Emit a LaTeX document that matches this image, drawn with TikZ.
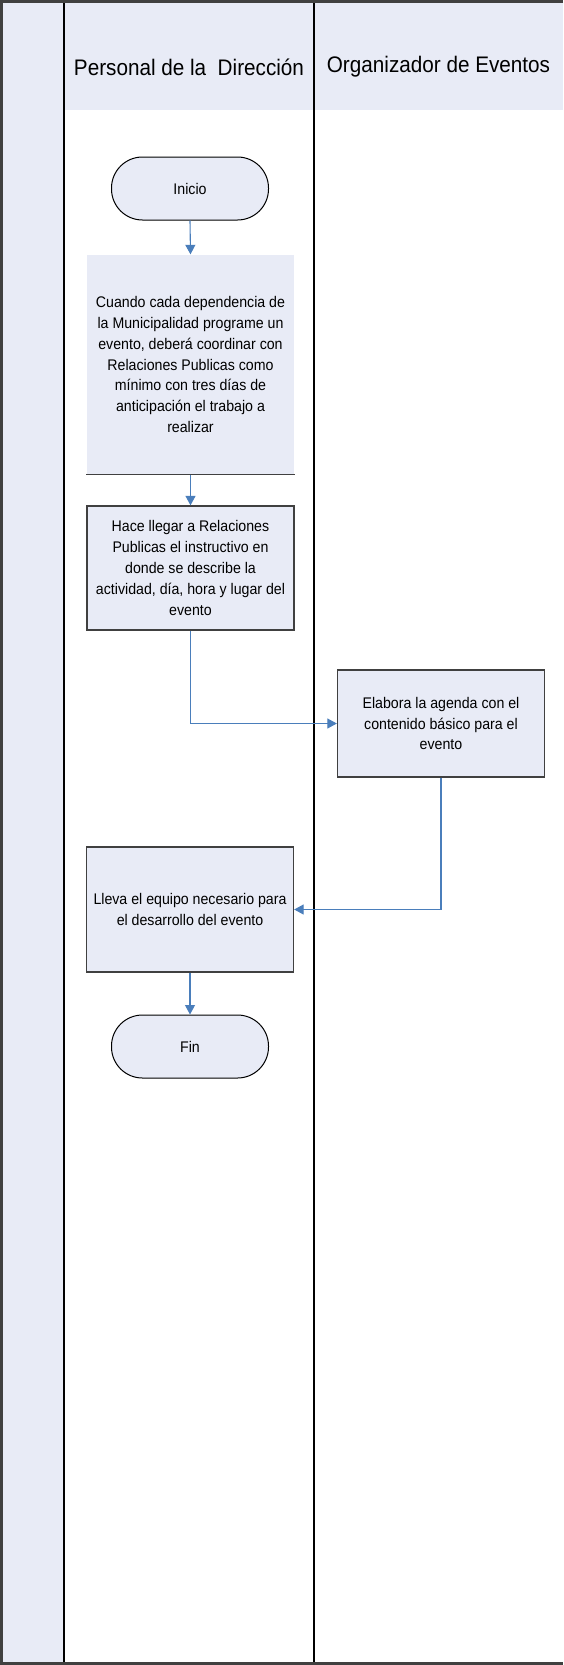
\documentclass[tikz,border=0pt]{standalone}
\usepackage{fontspec}
\setmainfont[FakeStretch=0.92]{Liberation Sans}
\usetikzlibrary{arrows.meta, positioning}
\definecolor{cLane}{RGB}{232,235,246}
\definecolor{cFlow}{RGB}{74,126,187}
\definecolor{cEdge}{RGB}{64,64,64}
\tikzset{
	startstop/.style={rectangle, rounded corners=31pt, minimum width=157pt, minimum height=63pt, text centered, align=center, draw=black, line width=1pt, fill=cLane, font=\fontsize{15.4}{20.8}\selectfont},
	process/.style  ={rectangle, minimum width=207pt, text centered, align=center, draw=cEdge, line width=1.3pt, fill=cLane, font=\fontsize{15.4}{20.8}\selectfont},
	lanehead/.style ={font=\fontsize{22.5}{26}\selectfont},
	lanerule/.style ={black, line width=1.4pt},
	flowarrow/.style={-{Triangle[length=9.5pt, width=10pt]}, draw=cFlow, line width=1.1pt},
}

\begin{document}
\begin{tikzpicture}[x=1pt, y=-1pt]
	\useasboundingbox (0,0) rectangle (563,1665);
	% pool and lanes
	\fill[cLane] (0,0) rectangle (64,1665);
	\fill[cLane] (64,0) rectangle (563,110);
	\draw[lanerule] (64,0) -- (64,1665);
	\draw[lanerule] (314,0) -- (314,1665);
	\draw[cEdge, line width=3pt] (563,1.5) -- (1.5,1.5) -- (1.5,1663.5) -- (563,1663.5);
	\node[lanehead] (lane1) at (189,67) {Personal de la\ \ Dirección};
	\node[lanehead] (lane2) at (438.5,67) {Organizador de Eventos};
	% steps
	\node[startstop] (inicio) at (190,188.5) {Inicio};
	\node[process, draw=none, minimum height=219pt] (act1) at (190.5,364.5) {Cuando cada dependencia de\\ la Municipalidad programe un\\ evento, deberá coordinar con\\ Relaciones Publicas como\\ mínimo con tres días de\\ anticipación el trabajo a\\ realizar};
	\draw[cEdge, line width=1.5pt] (act1.south west) -- (act1.south east);
	\node[process, minimum height=124pt] (act2) at (190.5,568) {Hace llegar a Relaciones\\ Publicas el instructivo en\\ donde se describe la\\ actividad, día, hora y lugar del\\ evento};
	\node[process, minimum height=107pt] (act3) at (441,723.5) {Elabora la agenda con el\\ contenido básico para el\\ evento};
	\node[process, minimum height=125pt] (act4) at (190,909.5) {Lleva el equipo necesario para\\ el desarrollo del evento};
	\node[startstop] (fin) at (190,1046.5) {Fin};
	% connectors
	\draw[flowarrow] (inicio.south) -- (act1.north);
	\draw[flowarrow] (act1.south) -- (act2.north);
	\draw[flowarrow] (act2.south) |- (act3.west);
	\draw[flowarrow] (act3.south) |- (act4.east);
	\draw[flowarrow] (act4.south) -- (fin.north);
\end{tikzpicture}
\end{document}
